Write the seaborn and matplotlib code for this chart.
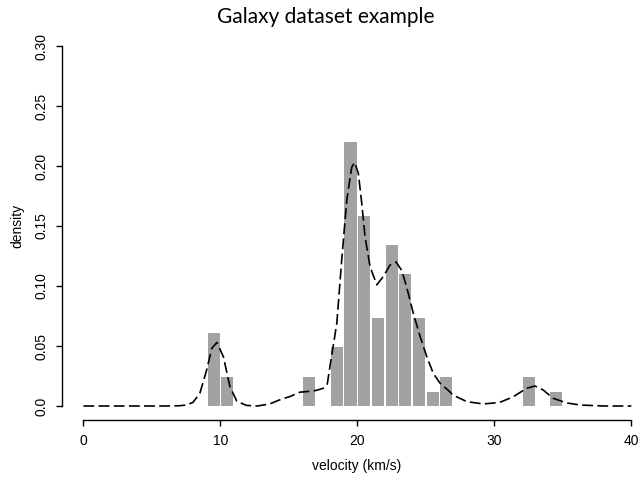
import numpy as np
import pandas as pd
import matplotlib
matplotlib.use("Agg")
import matplotlib.pyplot as plt
import seaborn as sns

# ---- data ----
bin_left = [9, 10, 16, 18, 19, 20, 21, 22, 23, 24, 25, 26, 32, 34]
bin_density = [0.061, 0.024, 0.024, 0.049, 0.220, 0.158, 0.073, 0.134,
               0.110, 0.073, 0.012, 0.024, 0.024, 0.012]
bin_edges = list(range(9, 36))

curve_x = [0, 2, 4, 6, 7, 7.5, 8, 8.5, 9, 9.37, 9.74, 10.22, 10.7, 11.2,
           11.9, 12.7, 13.6, 14.3, 15.1, 15.8, 16.3, 17.0, 17.5, 17.8, 18.0,
           18.5, 18.86, 19.23, 19.59, 19.8, 20.07, 20.32, 20.56, 20.93,
           21.42, 21.9, 22.39, 22.82, 23.24, 23.6, 24.09, 24.58, 25.07,
           25.55, 26.04, 26.64, 27.0, 28.0, 29.2, 30.4, 31.4, 32.35, 32.96,
           33.57, 34.3, 35.3, 36.3, 38, 40]
curve_y = [0, 0, 0, 0, 0.0002, 0.0008, 0.003, 0.0106, 0.030, 0.048, 0.053,
           0.041, 0.016, 0.004, 0.0005, 0.0, 0.0017, 0.005, 0.008, 0.0115,
           0.012, 0.013, 0.0147, 0.018, 0.033, 0.069, 0.122, 0.172, 0.199,
           0.203, 0.194, 0.169, 0.141, 0.116, 0.101, 0.108, 0.1175, 0.120,
           0.113, 0.099, 0.077, 0.058, 0.041, 0.027, 0.019, 0.013, 0.009,
           0.0036, 0.0017, 0.003, 0.0078, 0.0147, 0.0167, 0.0133, 0.0064,
           0.0025, 0.0008, 0.0, 0.0]

x_ticks = [0, 10, 20, 30, 40]
y_ticks = [0.0, 0.05, 0.10, 0.15, 0.20, 0.25, 0.30]
y_tick_labels = ["0.0", "0.05", "0.10", "0.15", "0.20", "0.25", "0.30"]

title = "Galaxy dataset example"
xlabel = "velocity (km/s)"
ylabel = "density"

# ---- figure ----
sns.set_theme(style="ticks")
plt.rcParams["font.family"] = ["Liberation Sans", "DejaVu Sans"]

W, H = 641, 478
fig = plt.figure(figsize=(W / 100, H / 100), dpi=100)
ax_l, ax_r, ax_t, ax_b = 61.5, 641, 31.6, 420.4
ax = fig.add_axes([ax_l / W, 1 - ax_b / H, (ax_r - ax_l) / W, (ax_b - ax_t) / H])

hist_df = pd.DataFrame({"x": [b + 0.5 for b in bin_left], "w": bin_density})
sns.histplot(data=hist_df, x="x", weights="w", bins=bin_edges, stat="count",
             shrink=0.88, color="#a2a2a2", alpha=1, linewidth=0, ax=ax)

curve_df = pd.DataFrame({"x": curve_x, "y": curve_y})
sns.lineplot(data=curve_df, x="x", y="y", color="black", linewidth=1.2,
             sort=False, ax=ax)
ax.lines[-1].set_dashes((6.5, 2.6))

ax.set_xlim(-1.6, (ax_r - 83.3) / 13.7)
ax.set_ylim(-0.012, 0.312)

for s in ["top", "right"]:
    ax.spines[s].set_visible(False)
ax.spines["left"].set_bounds(0, 0.30)
ax.spines["bottom"].set_bounds(0, 40)
for s in ["left", "bottom"]:
    ax.spines[s].set_linewidth(1.0)
    ax.spines[s].set_color("black")

ax.set_xticks(x_ticks)
ax.set_xticklabels([str(t) for t in x_ticks])
ax.set_yticks(y_ticks)
ax.set_yticklabels(y_tick_labels, rotation=90, va="center")
ax.tick_params(axis="both", direction="out", length=4.5, width=1.0,
               color="black", labelsize=10, labelcolor="black")
ax.tick_params(axis="x", pad=5)
ax.tick_params(axis="y", pad=5)

ax.set_xlabel(xlabel, fontsize=10, color="black", va="center")
ax.set_ylabel(ylabel, fontsize=10, color="black", va="center")
ax.xaxis.set_label_coords(356.7 / W, 1 - 466 / H, transform=fig.transFigure)
ax.yaxis.set_label_coords(17.5 / W, 1 - 226 / H, transform=fig.transFigure)

fig.text(326 / W, 1 - 17 / H, title, ha="center", va="center",
         fontsize=15, family=["Lato", "DejaVu Sans"], color="black")

ax.grid(False)
fig.savefig("out.png", dpi=100)
